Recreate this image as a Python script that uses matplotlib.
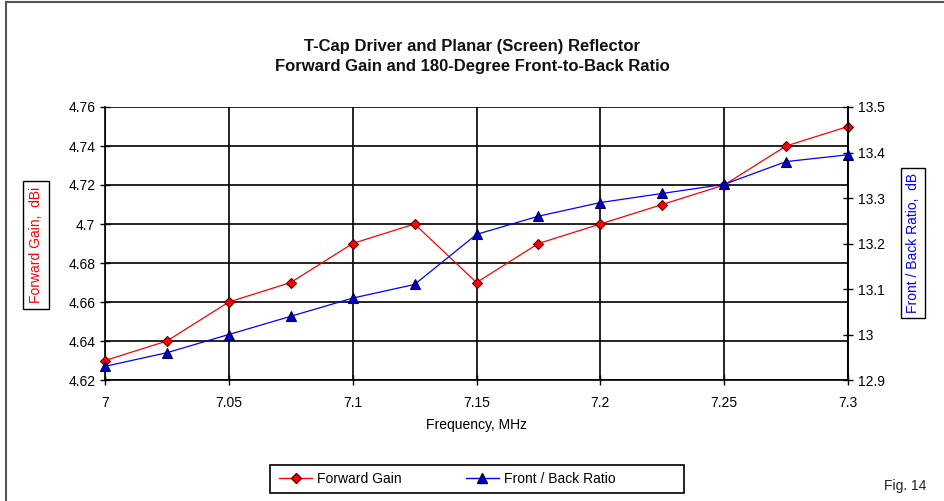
import matplotlib
matplotlib.use("Agg")
import matplotlib.pyplot as plt
from matplotlib.lines import Line2D
from matplotlib.patches import Rectangle
from matplotlib import font_manager

plt.rcParams['font.family'] = ['Liberation Sans', 'DejaVu Sans']

freq = [7.0, 7.025, 7.05, 7.075, 7.1, 7.125, 7.15, 7.175, 7.2, 7.225, 7.25, 7.275, 7.3]
gain = [4.63, 4.64, 4.66, 4.67, 4.69, 4.70, 4.67, 4.69, 4.70, 4.71, 4.72, 4.74, 4.75]
fb = [12.93, 12.96, 13.00, 13.04, 13.08, 13.11, 13.22, 13.26, 13.29, 13.31, 13.33, 13.38, 13.395]
xticks = [7.0, 7.05, 7.1, 7.15, 7.2, 7.25, 7.3]
xticklabels = ['7', '7.05', '7.1', '7.15', '7.2', '7.25', '7.3']
gticks = [4.62, 4.64, 4.66, 4.68, 4.70, 4.72, 4.74, 4.76]
gticklabels = ['4.62', '4.64', '4.66', '4.68', '4.7', '4.72', '4.74', '4.76']
fticks = [12.9, 13.0, 13.1, 13.2, 13.3, 13.4, 13.5]
fticklabels = ['12.9', '13', '13.1', '13.2', '13.3', '13.4', '13.5']

names = {f.name for f in font_manager.fontManager.ttflist}
title_font = 'Liberation Sans Narrow' if 'Liberation Sans Narrow' in names else 'Liberation Sans'

fig = plt.figure(figsize=(9.45, 5.01), dpi=100)
ax = fig.add_axes([105/945, 1-380/501, (848-105)/945, (380-107)/501])

ax.plot(freq, gain, color='#ff0000', lw=0.9, marker='D', ms=5.3,
        mfc='#ff0000', mec='#600000', mew=0.8, zorder=5, clip_on=False)
ax.set_xlim(7.0, 7.3)
ax.set_ylim(4.62, 4.76)
ax.set_xticks(xticks)
ax.set_xticklabels(xticklabels)
ax.set_yticks(gticks)
ax.set_yticklabels(gticklabels)
ax.grid(True, color='black', lw=1.2)
ax.set_axisbelow(True)
for s in ax.spines.values():
    s.set_color('black')
    s.set_linewidth(1.2)
ax.spines['top'].set_visible(False)
ax.tick_params(axis='both', direction='inout', length=7, width=1, labelsize=10, colors='black')
ax.tick_params(axis='x', pad=8)
ax.set_xlabel('Frequency, MHz', fontsize=10, labelpad=6)

ax2 = ax.twinx()
ax2.plot(freq, fb, color='#0000ff', lw=0.9, marker='^', ms=7,
         mfc='#0000cc', mec='#000040', mew=0.8, zorder=5, clip_on=False)
ax2.set_ylim(12.9, 13.5)
ax2.set_yticks(fticks)
ax2.set_yticklabels(fticklabels)
ax2.tick_params(axis='y', direction='inout', length=7, width=1, labelsize=10)
for s in ax2.spines.values():
    s.set_visible(False)
ax2.spines['right'].set_visible(True)
ax2.spines['right'].set_linewidth(1.2)

fig.text(0.5, 1-46/501, 'T-Cap Driver and Planar (Screen) Reflector', ha='center', va='center',
         fontsize=12, fontweight='bold', family=[title_font, 'DejaVu Sans'], color='#111111')
fig.text(0.5, 1-67/501, 'Forward Gain and 180-Degree Front-to-Back Ratio', ha='center', va='center',
         fontsize=12, fontweight='bold', family=[title_font, 'DejaVu Sans'], color='#111111')

fig.text(36/945, 1-245/501, 'Forward Gain,  dBi', rotation=90, ha='center', va='center',
         fontsize=10, color='#ff0000',
         bbox=dict(boxstyle='square,pad=0.45', fc='white', ec='black', lw=1))
fig.text(913/945, 1-243/501, 'Front / Back Ratio,  dB', rotation=90, ha='center', va='center',
         fontsize=10, color='#0000ff',
         bbox=dict(boxstyle='square,pad=0.35', fc='white', ec='black', lw=1))

fig.text(905/945, 1-486/501, 'Fig. 14', ha='center', va='center', fontsize=10, color='#222222')

handles = [Line2D([], [], color='#ff0000', lw=1, marker='D', ms=5, mfc='#ff0000', mec='#600000'),
           Line2D([], [], color='#0000ff', lw=1, marker='^', ms=7, mfc='#0000cc', mec='#000040')]
leg = fig.legend(handles, ['Forward Gain', 'Front / Back Ratio'], loc='center left',
                 bbox_to_anchor=(268/945, 1-479/501), ncol=2, fontsize=10, frameon=False,
                 columnspacing=4.6, handlelength=2.4,
                 borderpad=0.3, handletextpad=0.35)
fig.add_artist(Rectangle((270/945, 1-493/501), (684-270)/945, 28/501, transform=fig.transFigure,
                         fill=False, ec='black', lw=1.2))

fig.add_artist(Line2D([6/945, 6/945], [0, 1-2/501], color='#555555', lw=1.5, transform=fig.transFigure))
fig.add_artist(Line2D([6/945, 1], [1-2/501, 1-2/501], color='#555555', lw=1.5, transform=fig.transFigure))

fig.savefig('out.png', dpi=100)
